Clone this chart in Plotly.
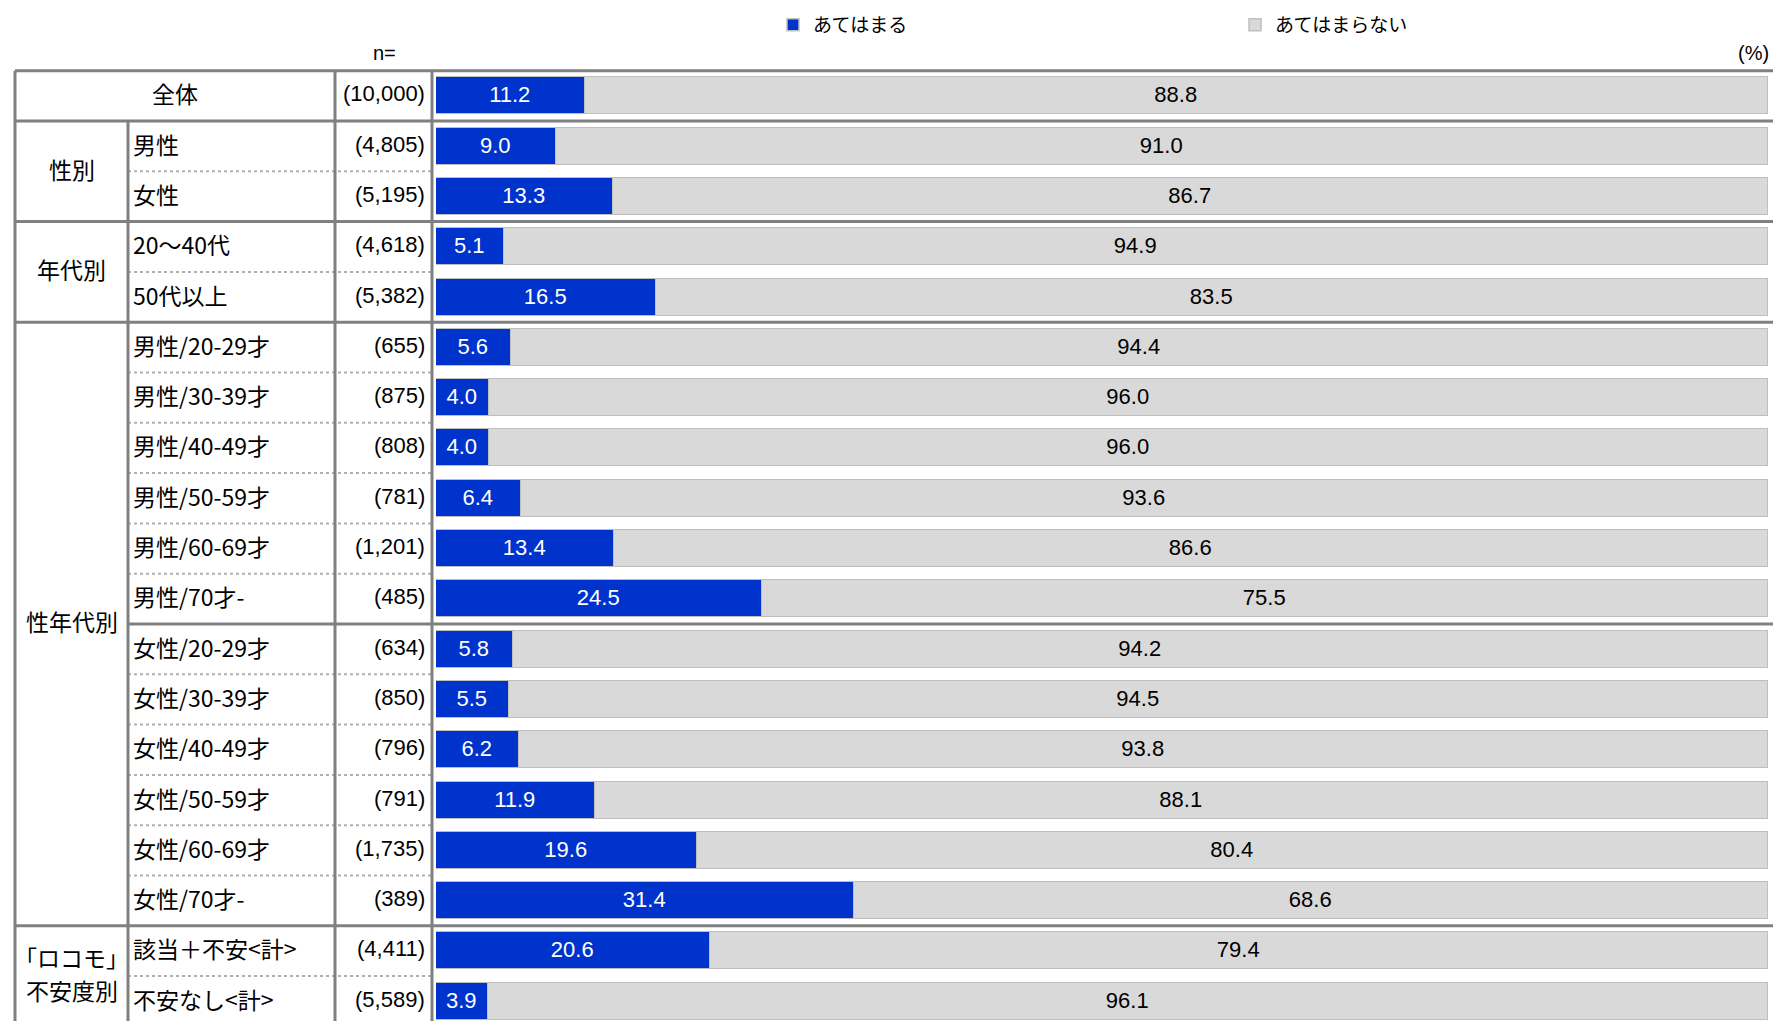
import plotly.graph_objects as go

# ---------------- data ----------------
row_labels = ["全体", "男性", "女性", "20～40代", "50代以上",
              "男性/20-29才", "男性/30-39才", "男性/40-49才", "男性/50-59才", "男性/60-69才", "男性/70才-",
              "女性/20-29才", "女性/30-39才", "女性/40-49才", "女性/50-59才", "女性/60-69才", "女性/70才-",
              "該当＋不安<計>", "不安なし<計>"]
n_values = [10000, 4805, 5195, 4618, 5382,
            655, 875, 808, 781, 1201, 485,
            634, 850, 796, 791, 1735, 389,
            4411, 5589]
applies = [11.2, 9.0, 13.3, 5.1, 16.5,
           5.6, 4.0, 4.0, 6.4, 13.4, 24.5,
           5.8, 5.5, 6.2, 11.9, 19.6, 31.4,
           20.6, 3.9]
not_applies = [88.8, 91.0, 86.7, 94.9, 83.5,
               94.4, 96.0, 96.0, 93.6, 86.6, 75.5,
               94.2, 94.5, 93.8, 88.1, 80.4, 68.6,
               79.4, 96.1]
group_labels = [["性別"], ["年代別"], ["性年代別"], ["「ロコモ」", "不安度別"]]
group_sizes = [2, 2, 12, 2]
series_names = ["あてはまる", "あてはまらない"]

# ---------------- layout constants ----------------
W, H = 1773, 1021
BLUE = "#0033CC"
GRAY = "#D9D9D9"
OUTLINE = "#BFBFBF"
LINE = "#808080"
JP = "Noto Sans CJK JP"
LAT = "Liberation Sans, Arial, Noto Sans CJK JP"

top_px, row_px = 70.7, 50.3
y0_px = top_px + row_px / 2          # pixel of row 0 centre
y_top = -y0_px / row_px
y_bot = (H - y0_px) / row_px

bar_left, bar_right = 436, 1768
x_outer, x_sub, x_n, x_bar = 15, 128, 335, 432
JP_SHIFT = -0.05


def px(x):
    return x / W


ys = list(range(len(row_labels)))

fig = go.Figure()
fig.add_trace(go.Bar(
    y=ys, x=applies, orientation="h", name=series_names[0],
    marker=dict(color=BLUE, line=dict(color=OUTLINE, width=1.5)),
    width=0.735, text=[f"{v:.1f}" for v in applies],
    textposition="inside", insidetextanchor="middle", textangle=0,
    textfont=dict(family=LAT, size=22, color="white"),
    hoverinfo="skip",
))
fig.add_trace(go.Bar(
    y=ys, x=not_applies, orientation="h", name=series_names[1],
    marker=dict(color=GRAY, line=dict(color=OUTLINE, width=1.5)),
    width=0.735, text=[f"{v:.1f}" for v in not_applies],
    textposition="inside", insidetextanchor="middle", textangle=0,
    textfont=dict(family=LAT, size=22, color="black"),
    hoverinfo="skip",
))

shapes = []


def hline(y, x0, x1, dotted=False):
    shapes.append(dict(type="line", xref="paper", yref="y", x0=px(x0), x1=px(x1), y0=y, y1=y,
                       line=dict(color="#B0B0B0" if dotted else LINE, width=2 if dotted else 3,
                                 dash="dot" if dotted else "solid"), layer="above"))


def vline(x, ya, yb):
    shapes.append(dict(type="line", xref="paper", yref="y", x0=px(x), x1=px(x), y0=ya, y1=yb,
                       line=dict(color=LINE, width=3), layer="above"))


bottom = len(row_labels) - 0.5 + 0.3
hline(-0.5, x_outer, W)
hline(0.5, x_outer, W)
start = 1
group_bounds = []
for size in group_sizes:
    group_bounds.append((start, size))
    start += size
for (s, size) in group_bounds[:-1]:
    hline(s + size - 0.5, x_outer, W)
s_age = group_bounds[2][0]
hline(s_age + 6 - 0.5, x_sub, W)
for (s, size) in group_bounds:
    for k in range(1, size):
        if (s, size) == group_bounds[2] and k == 6:
            continue
        hline(s + k - 0.5, x_sub, x_bar, dotted=True)

vline(x_outer, -0.5, bottom)
vline(x_sub, 0.5, bottom)
vline(x_n, -0.5, bottom)
vline(x_bar, -0.5, bottom)

annotations = []
annotations.append(dict(x=px((x_outer + x_n) / 2), y=0 + JP_SHIFT, xref="paper", yref="y", text=row_labels[0],
                        showarrow=False, font=dict(family=JP, size=23, color="black"),
                        xanchor="center", yanchor="middle"))
for i in range(1, len(row_labels)):
    label = row_labels[i].replace("<", "&lt;").replace(">", "&gt;")
    annotations.append(dict(x=px(x_sub + 3), y=i + JP_SHIFT, xref="paper", yref="y", text=label,
                            showarrow=False, font=dict(family=JP, size=23, color="black"),
                            xanchor="left", yanchor="middle"))
for i, nv in enumerate(n_values):
    annotations.append(dict(x=px(x_n + 92), y=i - 0.04, xref="paper", yref="y", text=f"({nv:,})",
                            showarrow=False, font=dict(family=LAT, size=22, color="black"),
                            xanchor="right", yanchor="middle"))
for lines, (s, size) in zip(group_labels, group_bounds):
    centre = s + (size - 1) / 2 + JP_SHIFT
    nl = len(lines)
    for j, t in enumerate(lines):
        annotations.append(dict(x=px((x_outer + x_sub) / 2), y=centre + (j - (nl - 1) / 2) * 0.64,
                                xref="paper", yref="y", text=t, showarrow=False,
                                font=dict(family=JP, size=23, color="black"),
                                xanchor="center", yanchor="middle"))
annotations.append(dict(x=px(384), y=1 - 53 / H, xref="paper", yref="paper", text="n=",
                        showarrow=False, font=dict(family=LAT, size=20, color="black"),
                        xanchor="center", yanchor="middle"))
annotations.append(dict(x=px(1771), y=1 - 53 / H, xref="paper", yref="paper", text="(%)",
                        showarrow=False, font=dict(family=LAT, size=20, color="black"),
                        xanchor="right", yanchor="middle"))

fig.update_layout(
    width=W, height=H,
    margin=dict(l=0, r=0, t=0, b=0),
    paper_bgcolor="white", plot_bgcolor="white",
    barmode="stack", bargap=0,
    showlegend=True,
    legend=dict(orientation="h", x=px(773), y=1 - 6 / H, xanchor="left", yanchor="top",
                font=dict(family=JP, size=19, color="black"),
                entrywidth=417, entrywidthmode="pixels", traceorder="normal",
                bgcolor="rgba(0,0,0,0)", itemclick=False, itemdoubleclick=False),
    uniformtext=dict(minsize=22, mode="show"),
    xaxis=dict(domain=[px(bar_left), px(bar_right)], range=[0, 100], visible=False, fixedrange=True),
    yaxis=dict(domain=[0, 1], range=[y_bot, y_top], visible=False, fixedrange=True),
    shapes=shapes, annotations=annotations,
)

fig.write_html("out.html", config=dict(displayModeBar=False),
               post_script="document.body.style.margin='0';document.body.style.overflow='hidden';")
